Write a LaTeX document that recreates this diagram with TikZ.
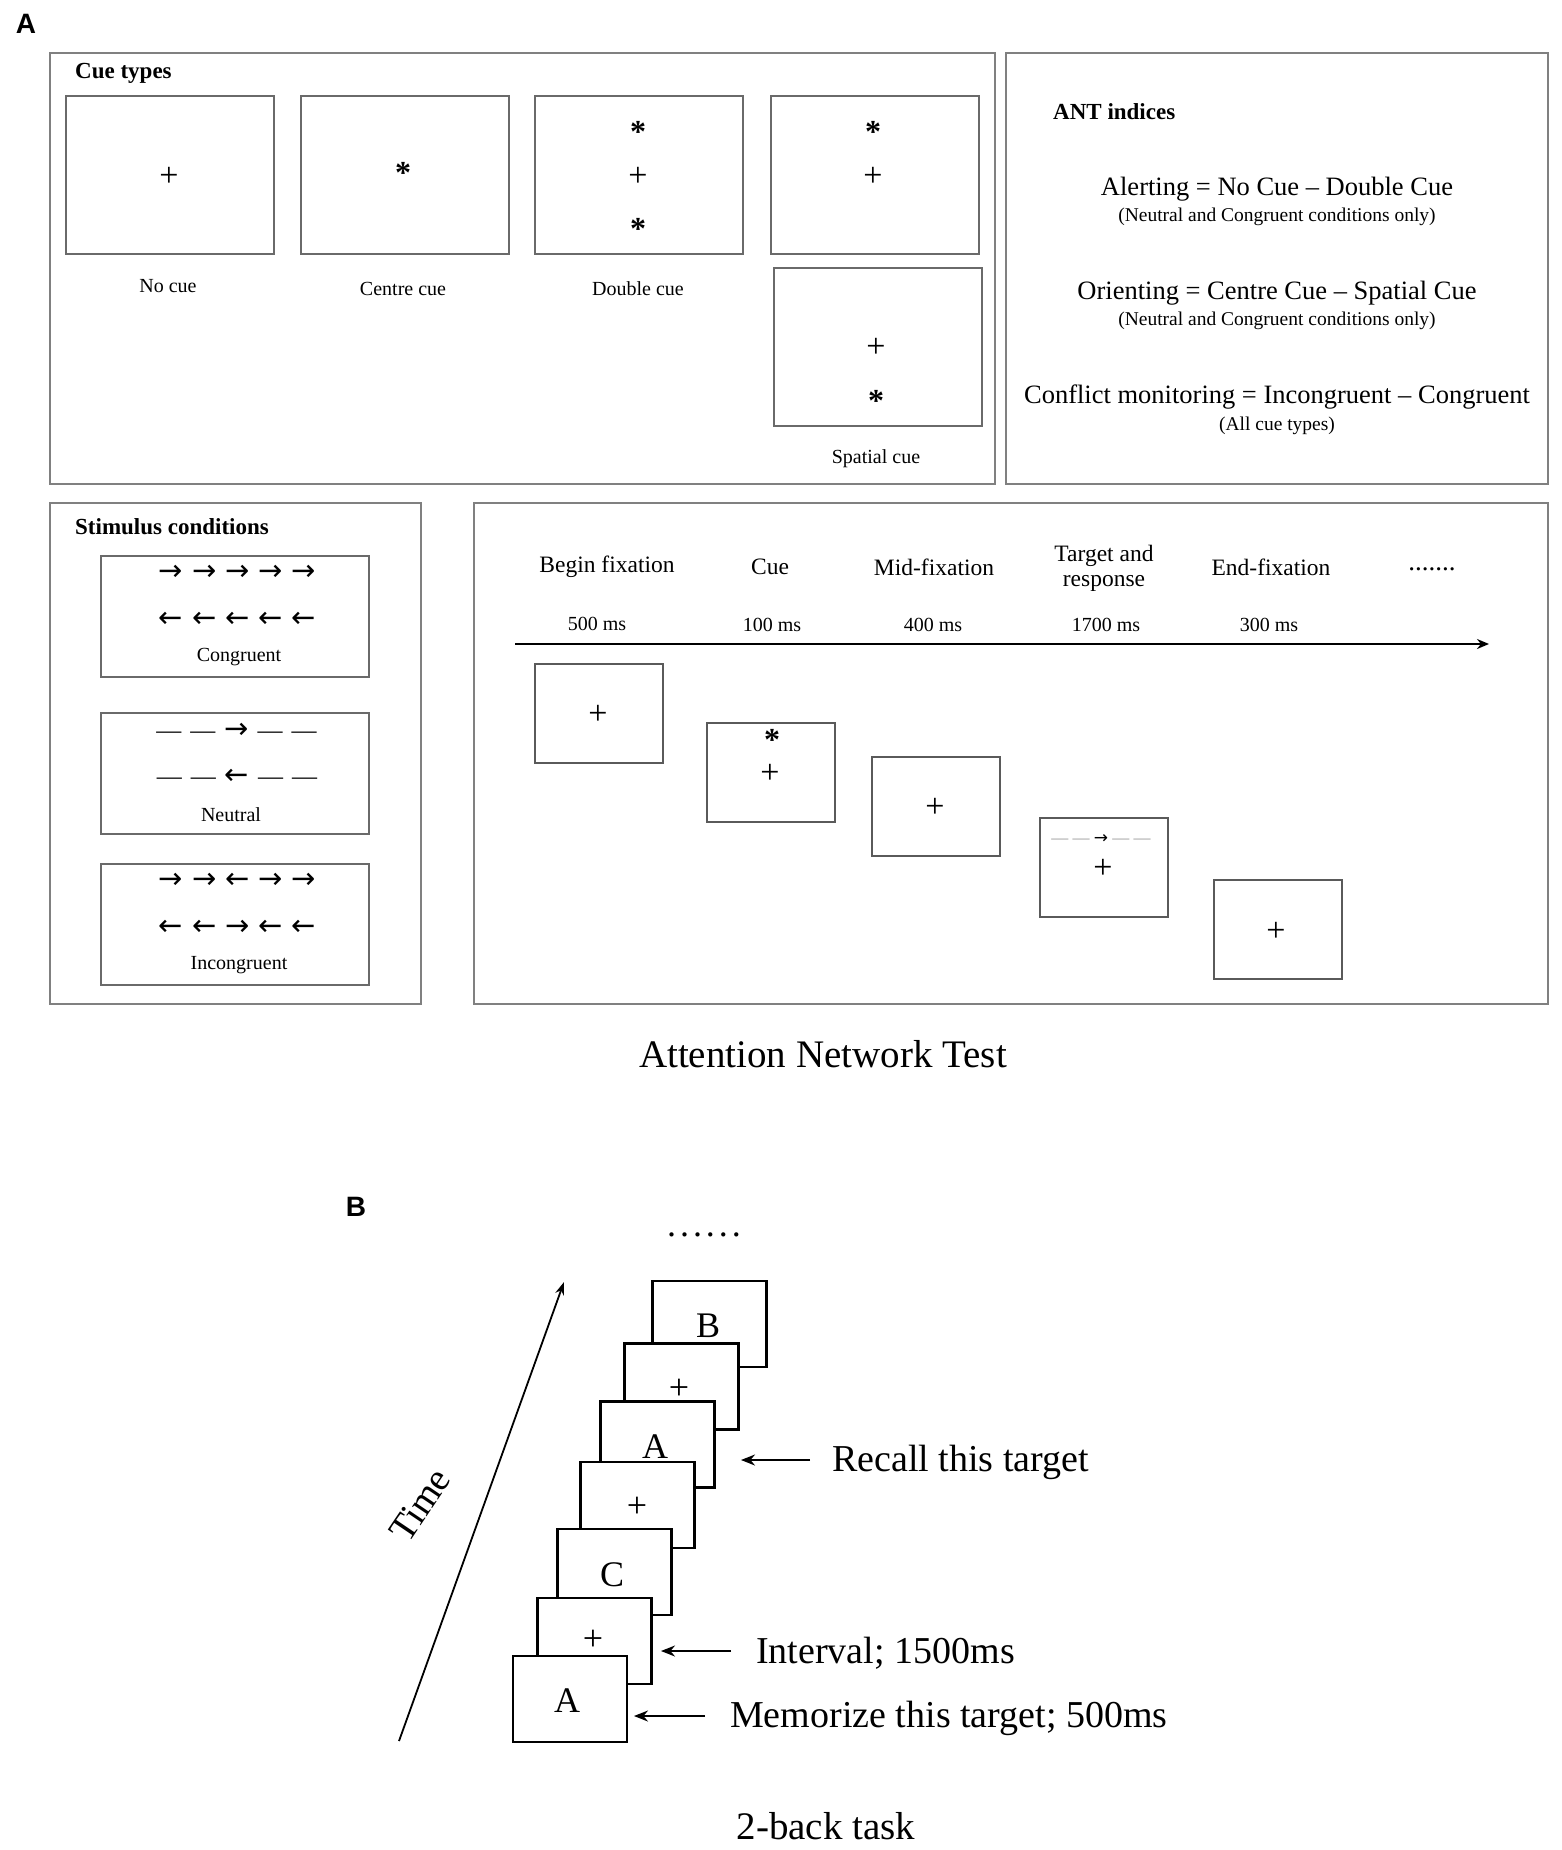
\documentclass[tikz,border=0pt]{standalone}
\usepackage{fontspec}
\setmainfont{Liberation Serif}
\newfontfamily\labfont{Liberation Sans}
\newfontfamily\dvs{DejaVu Sans}
\usetikzlibrary{arrows.meta}
\newcommand\fs[2]{\fontsize{#1pt}{#2pt}\selectfont}
\newcommand\rar{{\dvs →}}
\newcommand\lar{{\dvs ←}}
\newcommand\dsh{{\fontsize{25pt}{27pt}\selectfont —}}
\newcommand\gp{\hspace{9pt}}
\definecolor{pgray}{HTML}{808080}
\definecolor{cgray}{HTML}{6A6A6A}
\definecolor{tgray}{HTML}{5A5A5A}
\definecolor{dgray}{HTML}{9A9A9A}
\begin{document}
\begin{tikzpicture}[x=1pt,y=-1pt,
  panel/.style={draw=pgray, line width=2pt, inner sep=0pt},
  cuebox/.style={draw=cgray, line width=2pt, minimum width=208, minimum height=158, inner sep=0pt},
  stimbox/.style={draw=cgray, line width=2pt, minimum width=268, minimum height=121, inner sep=0pt},
  tbox/.style={draw=tgray, line width=2pt, minimum width=128, minimum height=99, inner sep=0pt},
  bbox/.style={draw=black, fill=white, line width=2.2pt, minimum width=114, minimum height=86, inner sep=0pt},
  head/.style={font=\bfseries\fs{23}{27}, anchor=west, inner sep=0pt},
  lbl/.style={font=\fs{20}{24}, inner sep=0pt},
  tlbl/.style={font=\fs{23.5}{25}, inner sep=0pt, align=center},
  big/.style={font=\fs{26.5}{30}, inner sep=0pt},
  small/.style={font=\fs{19.5}{22}, inner sep=0pt},
  plus/.style={font=\fs{34}{36}, inner sep=0pt},
  star/.style={font=\bfseries\fs{32}{34}, inner sep=0pt, anchor=north},
  arrrow/.style={font=\fs{29}{31}, inner sep=0pt},
  bigtext/.style={font=\fs{38}{42}, inner sep=0pt},
  bsym/.style={font=\fs{36}{40}, inner sep=0pt},
  plabel/.style={font=\labfont\bfseries\fs{28}{30}, inner sep=0pt},
  conn/.style={line width=2pt, -{Stealth[length=14,width=11]}}
]
\useasboundingbox (0,0) rectangle (1562,1850);

% ---------- Panel A ----------
\node[plabel] (lA) at (26,24) {A};

% Cue types
\node[panel, minimum width=945, minimum height=431] (cuep) at (522.5,268.5) {};
\node[head] (cueh) at (75,73) {Cue types};
\node[cuebox] (cb1) at (170,175) {};
\node[cuebox] (cb2) at (405,175) {};
\node[cuebox] (cb3) at (639,175) {};
\node[cuebox] (cb4) at (875,175) {};
\node[cuebox] (cb5) at (877.5,346.5) {};
\node[plus] (p1) at (169,177) {+};
\node[star] (s2) at (403,162) {*};
\node[star] (s3a) at (638,121) {*};
\node[plus] (p3) at (638,177) {+};
\node[star] (s3b) at (638,218) {*};
\node[star] (s4) at (873,121) {*};
\node[plus] (p4) at (873,177) {+};
\node[plus] (p5) at (876,348) {+};
\node[star] (s5) at (876,390) {*};
\node[lbl] (l1) at (168,286) {No cue};
\node[lbl] (l2) at (403,289) {Centre cue};
\node[lbl] (l3) at (638,289) {Double cue};
\node[lbl] (l5) at (876,459) {Spatial cue};

% ANT indices
\node[panel, minimum width=542, minimum height=431] (antp) at (1277,268.5) {};
\node[head] (anth) at (1053,112) {ANT indices};
\node[big] (al) at (1277,189) {Alerting = No Cue – Double Cue};
\node[small] (als) at (1277,217) {(Neutral and Congruent conditions only)};
\node[big] (or) at (1277,293) {Orienting = Centre Cue – Spatial Cue};
\node[small] (ors) at (1277,321) {(Neutral and Congruent conditions only)};
\node[big] (cm) at (1277,397) {Conflict monitoring = Incongruent – Congruent};
\node[small] (cms) at (1277,426) {(All cue types)};

% Stimulus conditions
\node[panel, minimum width=371, minimum height=501] (stimp) at (235.5,753.5) {};
\node[head] (stimh) at (75,527) {Stimulus conditions};
\node[stimbox] (sc) at (235,616) {};
\node[stimbox] (sn) at (235,773.5) {};
\node[stimbox] (si) at (235,924.5) {};
\node[arrrow] (sc1) at (237.5,573) {\rar\gp\rar\gp\rar\gp\rar\gp\rar};
\node[arrrow] (sc2) at (237.5,620) {\lar\gp\lar\gp\lar\gp\lar\gp\lar};
\node[lbl] (scl) at (239,657) {Congruent};
\node[arrrow] (sn1) at (236.5,731) {\dsh\gp\dsh\gp\rar\gp\dsh\gp\dsh};
\node[arrrow] (sn2) at (237,777) {\dsh\gp\dsh\gp\lar\gp\dsh\gp\dsh};
\node[lbl] (snl) at (231,815) {Neutral};
\node[arrrow] (si1) at (237.5,881) {\rar\gp\rar\gp\lar\gp\rar\gp\rar};
\node[arrrow] (si2) at (237.5,928) {\lar\gp\lar\gp\rar\gp\lar\gp\lar};
\node[lbl] (sil) at (239,965) {Incongruent};

% Timeline
\node[panel, minimum width=1074, minimum height=501] (tlp) at (1011,753.5) {};
\node[tlbl] (h1) at (607,567) {Begin fixation};
\node[tlbl] (h2) at (770,567) {Cue};
\node[tlbl] (h3) at (934,567) {Mid-fixation};
\node[tlbl] (h4) at (1104,568) {Target and\\response};
\node[tlbl] (h5) at (1271,567) {End-fixation};
\node[font=\fs{27}{30}, inner sep=0pt] (h6) at (1432,569) {.......};
\node[lbl] (d1) at (597,624) {500 ms};
\node[lbl] (d2) at (772,625) {100 ms};
\node[lbl] (d3) at (933,625) {400 ms};
\node[lbl] (d4) at (1106,625) {1700 ms};
\node[lbl] (d5) at (1269,625) {300 ms};
\coordinate (tl0) at (515,644);
\coordinate (tl1) at (1489,644);
\draw[line width=2pt, -{Stealth[length=12,width=10]}] (tl0) -- (tl1);
\node[tbox] (t1) at (598.5,713.5) {};
\node[tbox] (t2) at (771,772) {};
\node[tbox] (t3) at (936,806.5) {};
\node[tbox] (t4) at (1104,867) {};
\node[tbox] (t5) at (1277.5,929.5) {};
\node[plus] (tp1) at (598,715) {+};
\node[star] (ts2) at (772,729) {*};
\node[plus] (tp2) at (770,774) {+};
\node[plus] (tp3) at (935,808) {+};
\node[font=\fs{17}{19}, inner sep=0pt] (tt4) at (1101,839) {{\color{dgray}— —} {\dvs →} {\color{dgray}— —}};
\node[plus] (tp4) at (1103,869) {+};
\node[plus] (tp5) at (1276,932) {+};

\node[font=\fs{39}{42}, inner sep=0pt] (antt) at (823,1054) {Attention Network Test};

% ---------- Panel B ----------
\node[plabel] (lB) at (356,1207) {B};
\node[font=\fs{36}{40}, inner sep=0pt] (bdots) at (704,1235) {.\kern4pt.\kern4pt.\kern4pt.\kern4pt.\kern4pt.};

\node[bbox] (b7) at (709.5,1324) {};
\node[bsym] at (708,1326) {B};
\node[bbox] (b6) at (681.5,1386.5) {};
\node[bsym] at (679,1389) {+};
\node[bbox] (b5) at (657.5,1444.5) {};
\node[bsym] at (655,1447) {A};
\node[bbox] (b4) at (637.5,1505) {};
\node[bsym] at (637,1507) {+};
\node[bbox] (b3) at (614.5,1572) {};
\node[bsym] at (612,1575) {C};
\node[bbox] (b2) at (594.5,1641) {};
\node[bsym] at (593,1640) {+};
\node[bbox] (b1) at (570,1699) {};
\node[bsym] at (567,1701) {A};

\coordinate (ta0) at (399,1741);
\coordinate (ta1) at (564,1282);
\draw[line width=1.8pt, -{Stealth[length=13,width=9]}] (ta0) -- (ta1);
\node[bigtext, rotate=56] (time) at (420,1505) {Time};

\node[bigtext, anchor=west] (rt) at (832,1462) {Recall this target};
\coordinate (ra1) at (810,1460);
\coordinate (ra2) at (741,1460);
\draw[conn] (ra1) -- (ra2);
\node[bigtext, anchor=west] (it) at (756,1653) {Interval; 1500ms};
\coordinate (ia1) at (731,1651);
\coordinate (ia2) at (661,1651);
\draw[conn] (ia1) -- (ia2);
\node[bigtext, anchor=west] (mt) at (730,1718) {Memorize this target; 500ms};
\coordinate (ma1) at (705,1716);
\coordinate (ma2) at (634,1716);
\draw[conn] (ma1) -- (ma2);

\node[font=\fs{39}{42}, inner sep=0pt] (twob) at (826,1826) {2-back task};
\end{tikzpicture}
\end{document}
